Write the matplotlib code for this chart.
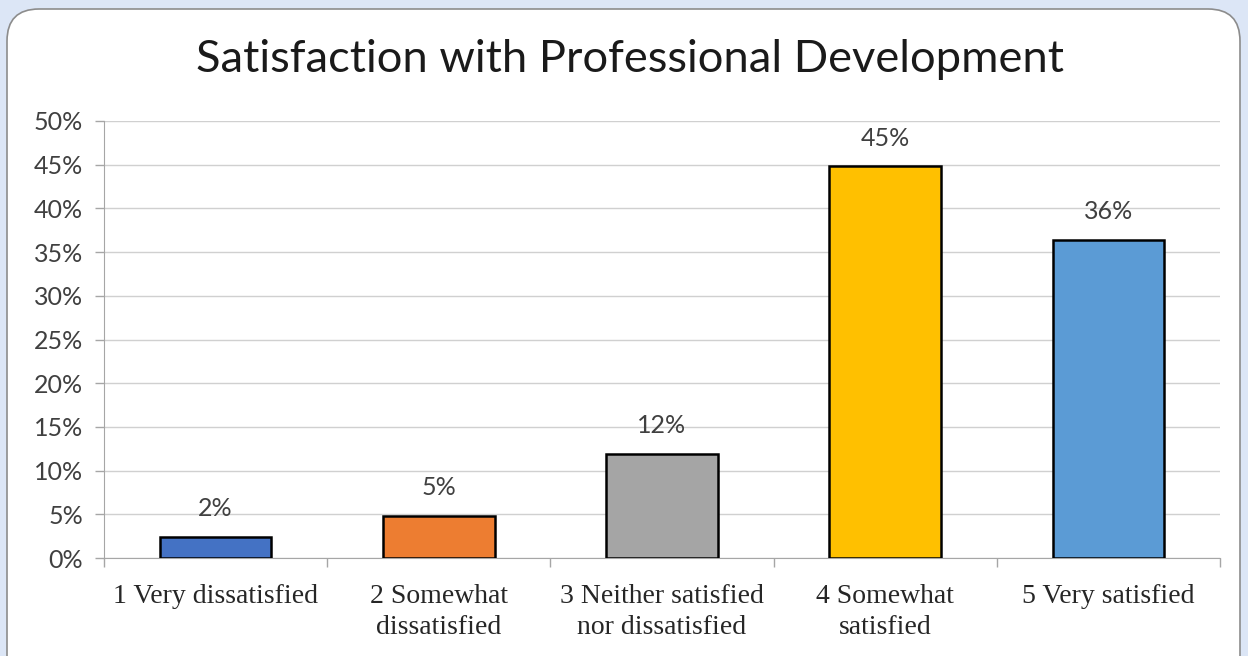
import matplotlib.pyplot as plt
from matplotlib.patches import FancyBboxPatch

# Données
categories = ["1 Very dissatisfied", "2 Somewhat\ndissatisfied", "3 Neither satisfied\nnor dissatisfied",
              "4 Somewhat\nsatisfied", "5 Very satisfied"]
valeurs = [2.4, 4.8, 11.9, 44.8, 36.4]
couleurs = ["#4472C4", "#ED7D31", "#A5A5A5", "#FFC000", "#5B9BD5"]
yticks = [0, 5, 10, 15, 20, 25, 30, 35, 40, 45, 50]


def main():
    fig = plt.figure(figsize=(12.48, 6.56), dpi=100)
    fig.patch.set_facecolor("#DCE6F6")

    # Cadre blanc arrondi (axe de fond en pixels)
    fond = fig.add_axes([0, 0, 1, 1], zorder=-1)
    fond.set_xlim(0, 1248)
    fond.set_ylim(656, 0)
    fond.axis("off")
    fond.add_patch(FancyBboxPatch((7, 9), 1233, 700, boxstyle="round,pad=0,rounding_size=32",
                                  facecolor="white", edgecolor="#8C8C8C", linewidth=1.2))

    ax = fig.add_axes([104 / 1248, 1 - 558 / 656, 1116 / 1248, 437 / 656])
    ax.patch.set_alpha(0)
    x = list(range(len(categories)))
    ax.bar(x, valeurs, width=0.5, color=couleurs, edgecolor="black", linewidth=1.8, zorder=3)

    for xi, v in zip(x, valeurs):
        ax.text(xi, v + 1.9, f"{round(v)}%", ha="center", va="bottom",
                fontsize=18, family="Lato", color="#404040")

    ax.set_xlim(-0.5, len(categories) - 0.5)
    ax.set_ylim(0, 50)
    ax.set_yticks(yticks)
    ax.set_yticklabels([f"{t}%" for t in yticks], fontsize=18, family="Lato", color="#404040")
    ax.set_xticks(x)
    ax.set_xticklabels(categories, fontsize=20, family="Liberation Serif", color="#262626",
                       linespacing=1.3)
    ax.tick_params(axis="x", length=0, pad=19)
    ax.tick_params(axis="y", length=6.5, color="#A6A6A6", width=1, pad=8.5)

    # graduations entre les catégories
    ax.set_xticks([i - 0.5 for i in range(len(categories) + 1)], minor=True)
    ax.tick_params(axis="x", which="minor", length=6.5, color="#A6A6A6", width=1)

    ax.grid(axis="y", color="#D0D0D0", linewidth=1, zorder=0)
    for s in ["top", "right"]:
        ax.spines[s].set_visible(False)
    ax.spines["left"].set_color("#A6A6A6")
    ax.spines["bottom"].set_color("#A6A6A6")

    fig.text(0.505, 1 - 60 / 656, "Satisfaction with Professional Development", ha="center", va="center",
             fontsize=32.6, family="Lato", color="#1A1A1A")

    fig.savefig("out.png", dpi=100, facecolor=fig.get_facecolor())


if __name__ == "__main__":
    main()
